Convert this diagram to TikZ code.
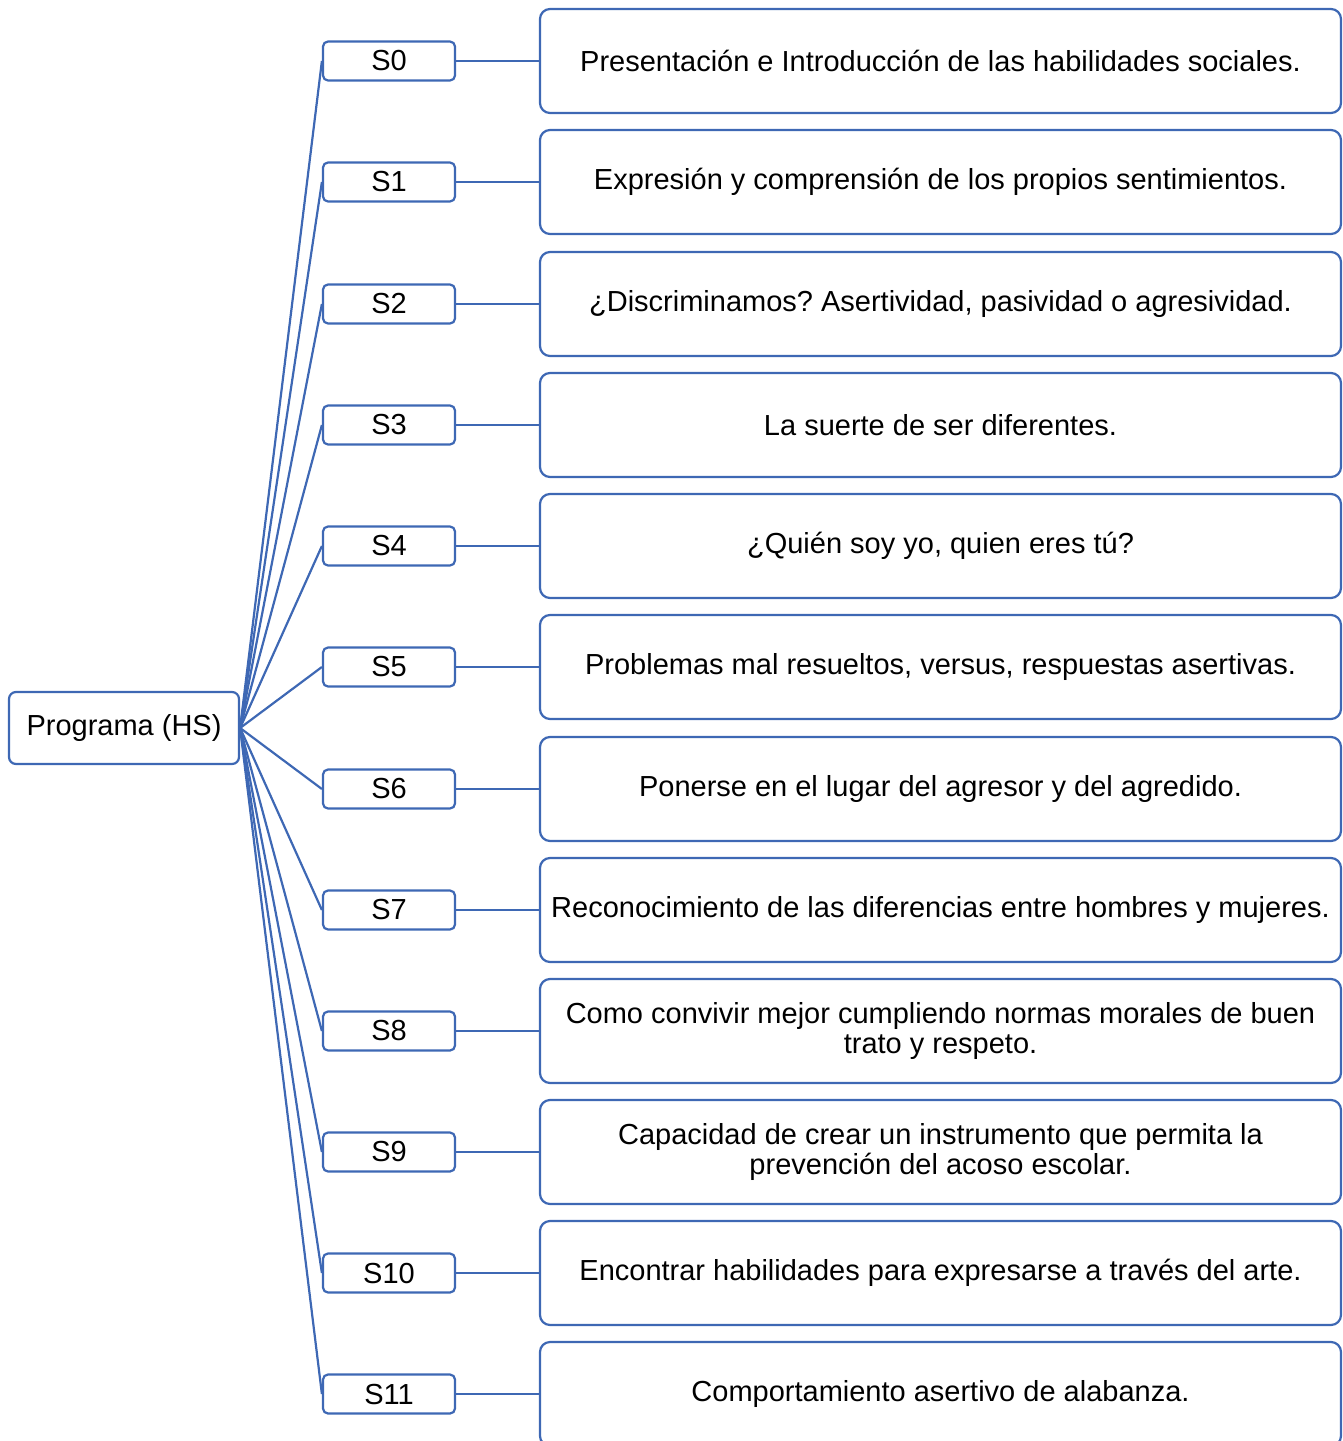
\documentclass[tikz,border=0pt]{standalone}
\usepackage{fontspec}
\setmainfont{Liberation Sans}
\frenchspacing
\definecolor{bord}{RGB}{62,104,180}
\begin{document}
\begin{tikzpicture}[x=1pt,y=-1pt,
  base/.style={draw=bord,line width=2.2pt,fill=white,inner sep=0pt,align=center,
    font=\fontsize{29}{30.5}\selectfont},
  rootbox/.style={base,rounded corners=7pt,minimum width=230pt,minimum height=72pt},
  sbox/.style={base,rounded corners=5pt,minimum width=132pt,minimum height=39pt},
  tbox/.style={base,rounded corners=10pt,minimum width=801pt,minimum height=104pt},
  conn/.style={draw=bord,line width=2.2pt}]
\useasboundingbox (0,0) rectangle (1342,1441);
\clip (0,0) rectangle (1342,1441);
\node[rootbox] (root) at (124,728) {Programa (HS)};
\foreach \i/\yy/\t in {
 0/61/{Presentación e Introducción de las habilidades sociales.},
 1/182/{Expresión y comprensión de los propios sentimientos.},
 2/304/{¿Discriminamos? Asertividad, pasividad o agresividad.},
 3/425/{La suerte de ser diferentes.},
 4/546/{¿Quién soy yo, quien eres tú?},
 5/667/{Problemas mal resueltos, versus, respuestas asertivas.},
 6/789/{Ponerse en el lugar del agresor y del agredido.},
 7/910/{Reconocimiento de las diferencias entre hombres y mujeres.},
 8/1031/{Como convivir mejor cumpliendo normas morales de buen\\trato y respeto.},
 9/1152/{Capacidad de crear un instrumento que permita la\\prevención del acoso escolar.},
 10/1273/{Encontrar habilidades para expresarse a través del arte.},
 11/1394/{Comportamiento asertivo de alabanza.}}{
  \node[sbox] (s\i) at (389,\yy) {S\i};
  \node[tbox] (t\i) at (940.5,\yy) {\t};
  \draw[conn] (root.east) -- (s\i.west);
  \draw[conn] (s\i.east) -- (t\i.west);
}
\end{tikzpicture}
\end{document}
